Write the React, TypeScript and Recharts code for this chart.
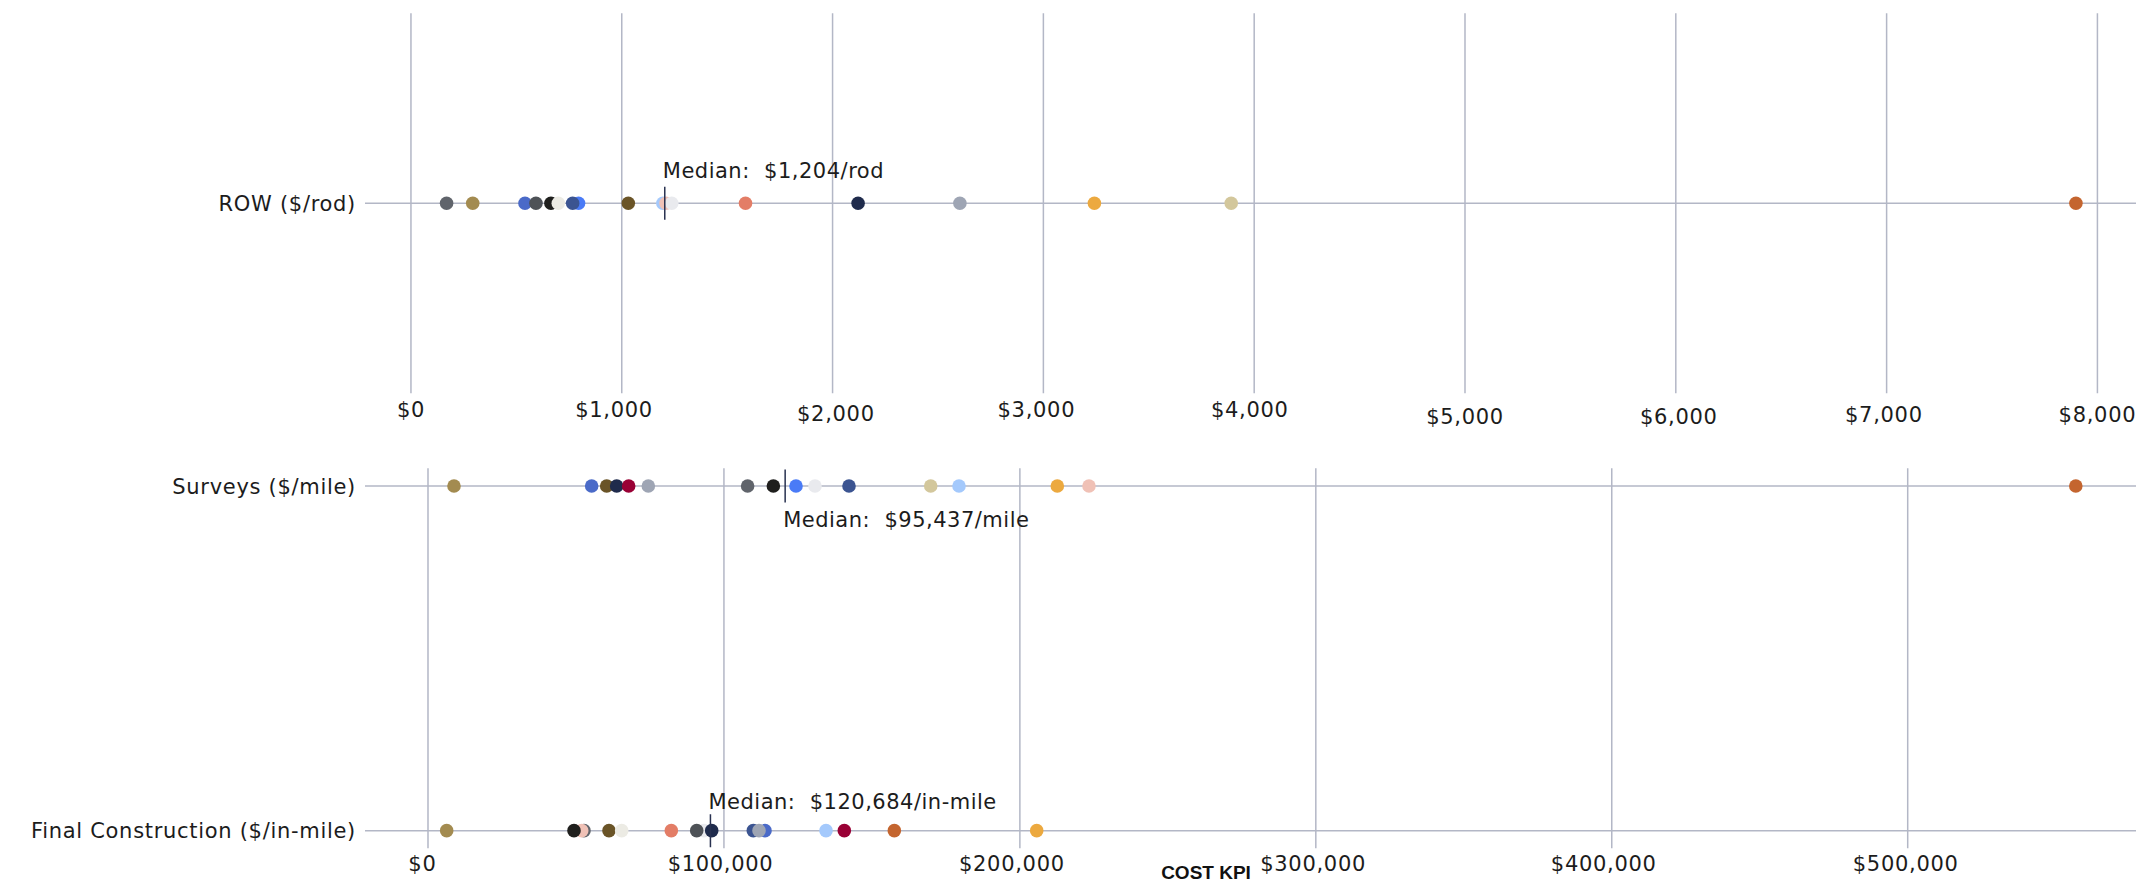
import React from 'react';
import { ScatterChart, Scatter, XAxis, YAxis, CartesianGrid } from 'recharts';

// ---------- data ----------
const topCategories = ['ROW ($/rod)'];
const bottomCategories = ['Final Construction ($/in-mile)', 'Surveys ($/mile)']; // index 0 bottom, 1 top

const topTicks = [0, 1000, 2000, 3000, 4000, 5000, 6000, 7000, 8000];
const bottomTicks = [0, 100000, 200000, 300000, 400000, 500000];

// ROW ($/rod)
const rowEntities = ['E1', 'E2', 'E3', 'E4', 'E5', 'E6', 'E8', 'E7', 'E9', 'E10', 'E11', 'E12', 'E13', 'E14', 'E15', 'E16', 'E17', 'E18'];
const rowValues = [169, 293, 541, 593, 664, 699, 795, 767, 1031, 1195, 1210, 1237, 1587, 2121, 2604, 3242, 3891, 7898];

// Surveys ($/mile)
const surveyEntities = ['E2', 'E3', 'E9', 'E14', 'E19', 'E15', 'E1', 'E5', 'E8', 'E12', 'E7', 'E17', 'E10', 'E16', 'E11', 'E18'];
const surveyValues = [8786, 55300, 60380, 63760, 67810, 74450, 108000, 116700, 124350, 130770, 142260, 169870, 179430, 212650, 223350, 556800];

// Final Construction ($/in-mile)
const finalEntities = ['E2', 'E1', 'E11', 'E5', 'E9', 'E6', 'E13', 'E12', 'E4', 'E14', 'E7', 'E3', 'E15', 'E10', 'E19', 'E18', 'E16'];
const finalValues = [6310, 52710, 51930, 49330, 61160, 65450, 82220, 93260, 90800, 95860, 109920, 113870, 111850, 134490, 140680, 157580, 205690];

// Median markers (as drawn) and their labels
const medianLineValues = [1204, 120684, 95437];
const medianLabels = ['Median:  $1,204/rod', 'Median:  $95,437/mile', 'Median:  $120,684/in-mile'];

// ---------- styles ----------
const palette: Record<string, string> = {
  E1: '#60646b',
  E2: '#a38b50',
  E3: '#4a6ac8',
  E4: '#4e5257',
  E5: '#1f1f1d',
  E6: '#ecebe4',
  E7: '#3b5491',
  E8: '#4a7bf7',
  E9: '#6a5427',
  E10: '#a4c9fc',
  E11: '#f0c1b6',
  E12: '#e9eaee',
  E13: '#e37d66',
  E14: '#1f2b4c',
  E15: '#9ea5b4',
  E16: '#eca93f',
  E17: '#d3c79c',
  E18: '#c4652f',
  E19: '#990035',
};

const FONT = "'DejaVu Sans', sans-serif";
const GRID = '#b3b7c6';
const TEXT = '#1c1c1c';
const medianLabelDy = [-32.5, 33, -29];
const topTickShift: Record<number, [number, number]> = {
  0: [0, 0], 1000: [-7.7, 0], 2000: [3.3, 4], 3000: [-7, 0], 4000: [-4.4, 0],
  5000: [0, 7.4], 6000: [3, 7.4], 7000: [-2.7, 5], 8000: [0, 5],
};
const bottomTickShift: Record<number, [number, number]> = {
  0: [-5.6, 0], 100000: [-3.4, 0], 200000: [-8, 0], 300000: [-2.7, 0], 400000: [-8, 0], 500000: [-2, 0],
};

const fmtMoney = (v: number) => '$' + v.toLocaleString('en-US');

const build = (entities: string[], values: number[], y: number) =>
  entities.map((e, i) => ({ x: values[i], y, entity: e }));

const rowData = build(rowEntities, rowValues, 0);
const surveyData = build(surveyEntities, surveyValues, 1);
const finalData = build(finalEntities, finalValues, 0);

const topMedian = [{ x: medianLineValues[0], y: 0, idx: 0 }];
const surveyMedian = [{ x: medianLineValues[1], y: 1, idx: 1 }];
const finalMedian = [{ x: medianLineValues[2], y: 0, idx: 2 }];

const Dot = (props: any) => {
  const { cx, cy, payload } = props;
  if (cx == null || cy == null) return null;
  return <circle cx={cx} cy={cy} r={6.8} fill={palette[payload.entity]} />;
};

const MedianShape = (props: any) => {
  const { cx, cy, payload } = props;
  if (cx == null || cy == null) return null;
  const dy = medianLabelDy[payload.idx];
  return (
    <g>
      <line x1={cx} x2={cx} y1={cy - 16.5} y2={cy + 16.5} stroke="#283150" strokeWidth={1.5} />
      <text
        x={cx - 2}
        y={cy + dy + 7.6}
        fontFamily={FONT}
        fontSize={21}
        letterSpacing={0.5}
        fill={TEXT}
        style={{ whiteSpace: 'pre' }}
      >
        {medianLabels[payload.idx]}
      </text>
    </g>
  );
};

const makeXTick = (shift: Record<number, [number, number]>, base: number) => (props: any) => {
  const { x, y, payload } = props;
  const s = shift[payload.value] || [0, 0];
  return (
    <text
      x={x + s[0]}
      y={y + base + s[1]}
      textAnchor="middle"
      fontFamily={FONT}
      fontSize={21}
      letterSpacing={0.7}
      fill={TEXT}
    >
      {fmtMoney(payload.value)}
    </text>
  );
};

const makeYTick = (cats: string[]) => (props: any) => {
  const { x, y, payload } = props;
  return (
    <text
      x={x}
      y={y}
      dy="0.36em"
      textAnchor="end"
      fontFamily={FONT}
      fontSize={21}
      letterSpacing={0.7}
      fill={TEXT}
    >
      {cats[payload.value]}
    </text>
  );
};

const CostLabel = (props: any) => {
  const vb = props.viewBox || { x: 365, y: 848 };
  return (
    <text
      x={vb.x + 841}
      y={vb.y + 31}
      textAnchor="middle"
      fontFamily="'Liberation Sans', Arial, sans-serif"
      fontWeight="bold"
      fontSize={19}
      fill="#111"
    >
      COST KPI
    </text>
  );
};

export default function App() {
  return (
    <div style={{ position: 'absolute', left: 0, top: 0, width: 2136, height: 886, background: '#fff', overflow: 'hidden' }}>
      <div style={{ position: 'absolute', left: 0, top: 0 }}>
        <ScatterChart width={2136} height={440} margin={{ top: 13.3, right: 0, bottom: 0, left: 0 }}>
          <CartesianGrid stroke={GRID} strokeWidth={1.5} vertical horizontal syncWithTicks />
          <XAxis
            type="number"
            dataKey="x"
            domain={[-218, 8183]}
            ticks={topTicks}
            allowDataOverflow
            axisLine={false}
            tickLine={false}
            tickSize={0}
            tickMargin={0}
            height={46.7}
            interval={0}
            tick={makeXTick(topTickShift, 23.7)}
          />
          <YAxis
            type="number"
            dataKey="y"
            domain={[-1, 1]}
            ticks={[0]}
            allowDataOverflow
            axisLine={false}
            tickLine={false}
            tickSize={0}
            tickMargin={9}
            width={365}
            tick={makeYTick(topCategories)}
          />
          <Scatter data={rowData} shape={Dot} isAnimationActive={false} />
          <Scatter data={topMedian} shape={MedianShape} isAnimationActive={false} />
        </ScatterChart>
      </div>
      <div style={{ position: 'absolute', left: 0, top: 440 }}>
        <ScatterChart width={2136} height={446} margin={{ top: 28.3, right: 0, bottom: 0, left: 0 }}>
          <CartesianGrid stroke={GRID} strokeWidth={1.5} vertical horizontal syncWithTicks />
          <XAxis
            type="number"
            dataKey="x"
            domain={[-21288, 577144]}
            ticks={bottomTicks}
            allowDataOverflow
            axisLine={false}
            tickLine={false}
            tickSize={0}
            tickMargin={0}
            height={37.7}
            interval={0}
            tick={makeXTick(bottomTickShift, 22.3)}
            label={<CostLabel />}
          />
          <YAxis
            type="number"
            dataKey="y"
            domain={[-0.0512, 1.0512]}
            ticks={[0, 1]}
            allowDataOverflow
            axisLine={false}
            tickLine={false}
            tickSize={0}
            tickMargin={9}
            width={365}
            tick={makeYTick(bottomCategories)}
          />
          <Scatter data={surveyData} shape={Dot} isAnimationActive={false} />
          <Scatter data={finalData} shape={Dot} isAnimationActive={false} />
          <Scatter data={surveyMedian} shape={MedianShape} isAnimationActive={false} />
          <Scatter data={finalMedian} shape={MedianShape} isAnimationActive={false} />
        </ScatterChart>
      </div>
    </div>
  );
}
